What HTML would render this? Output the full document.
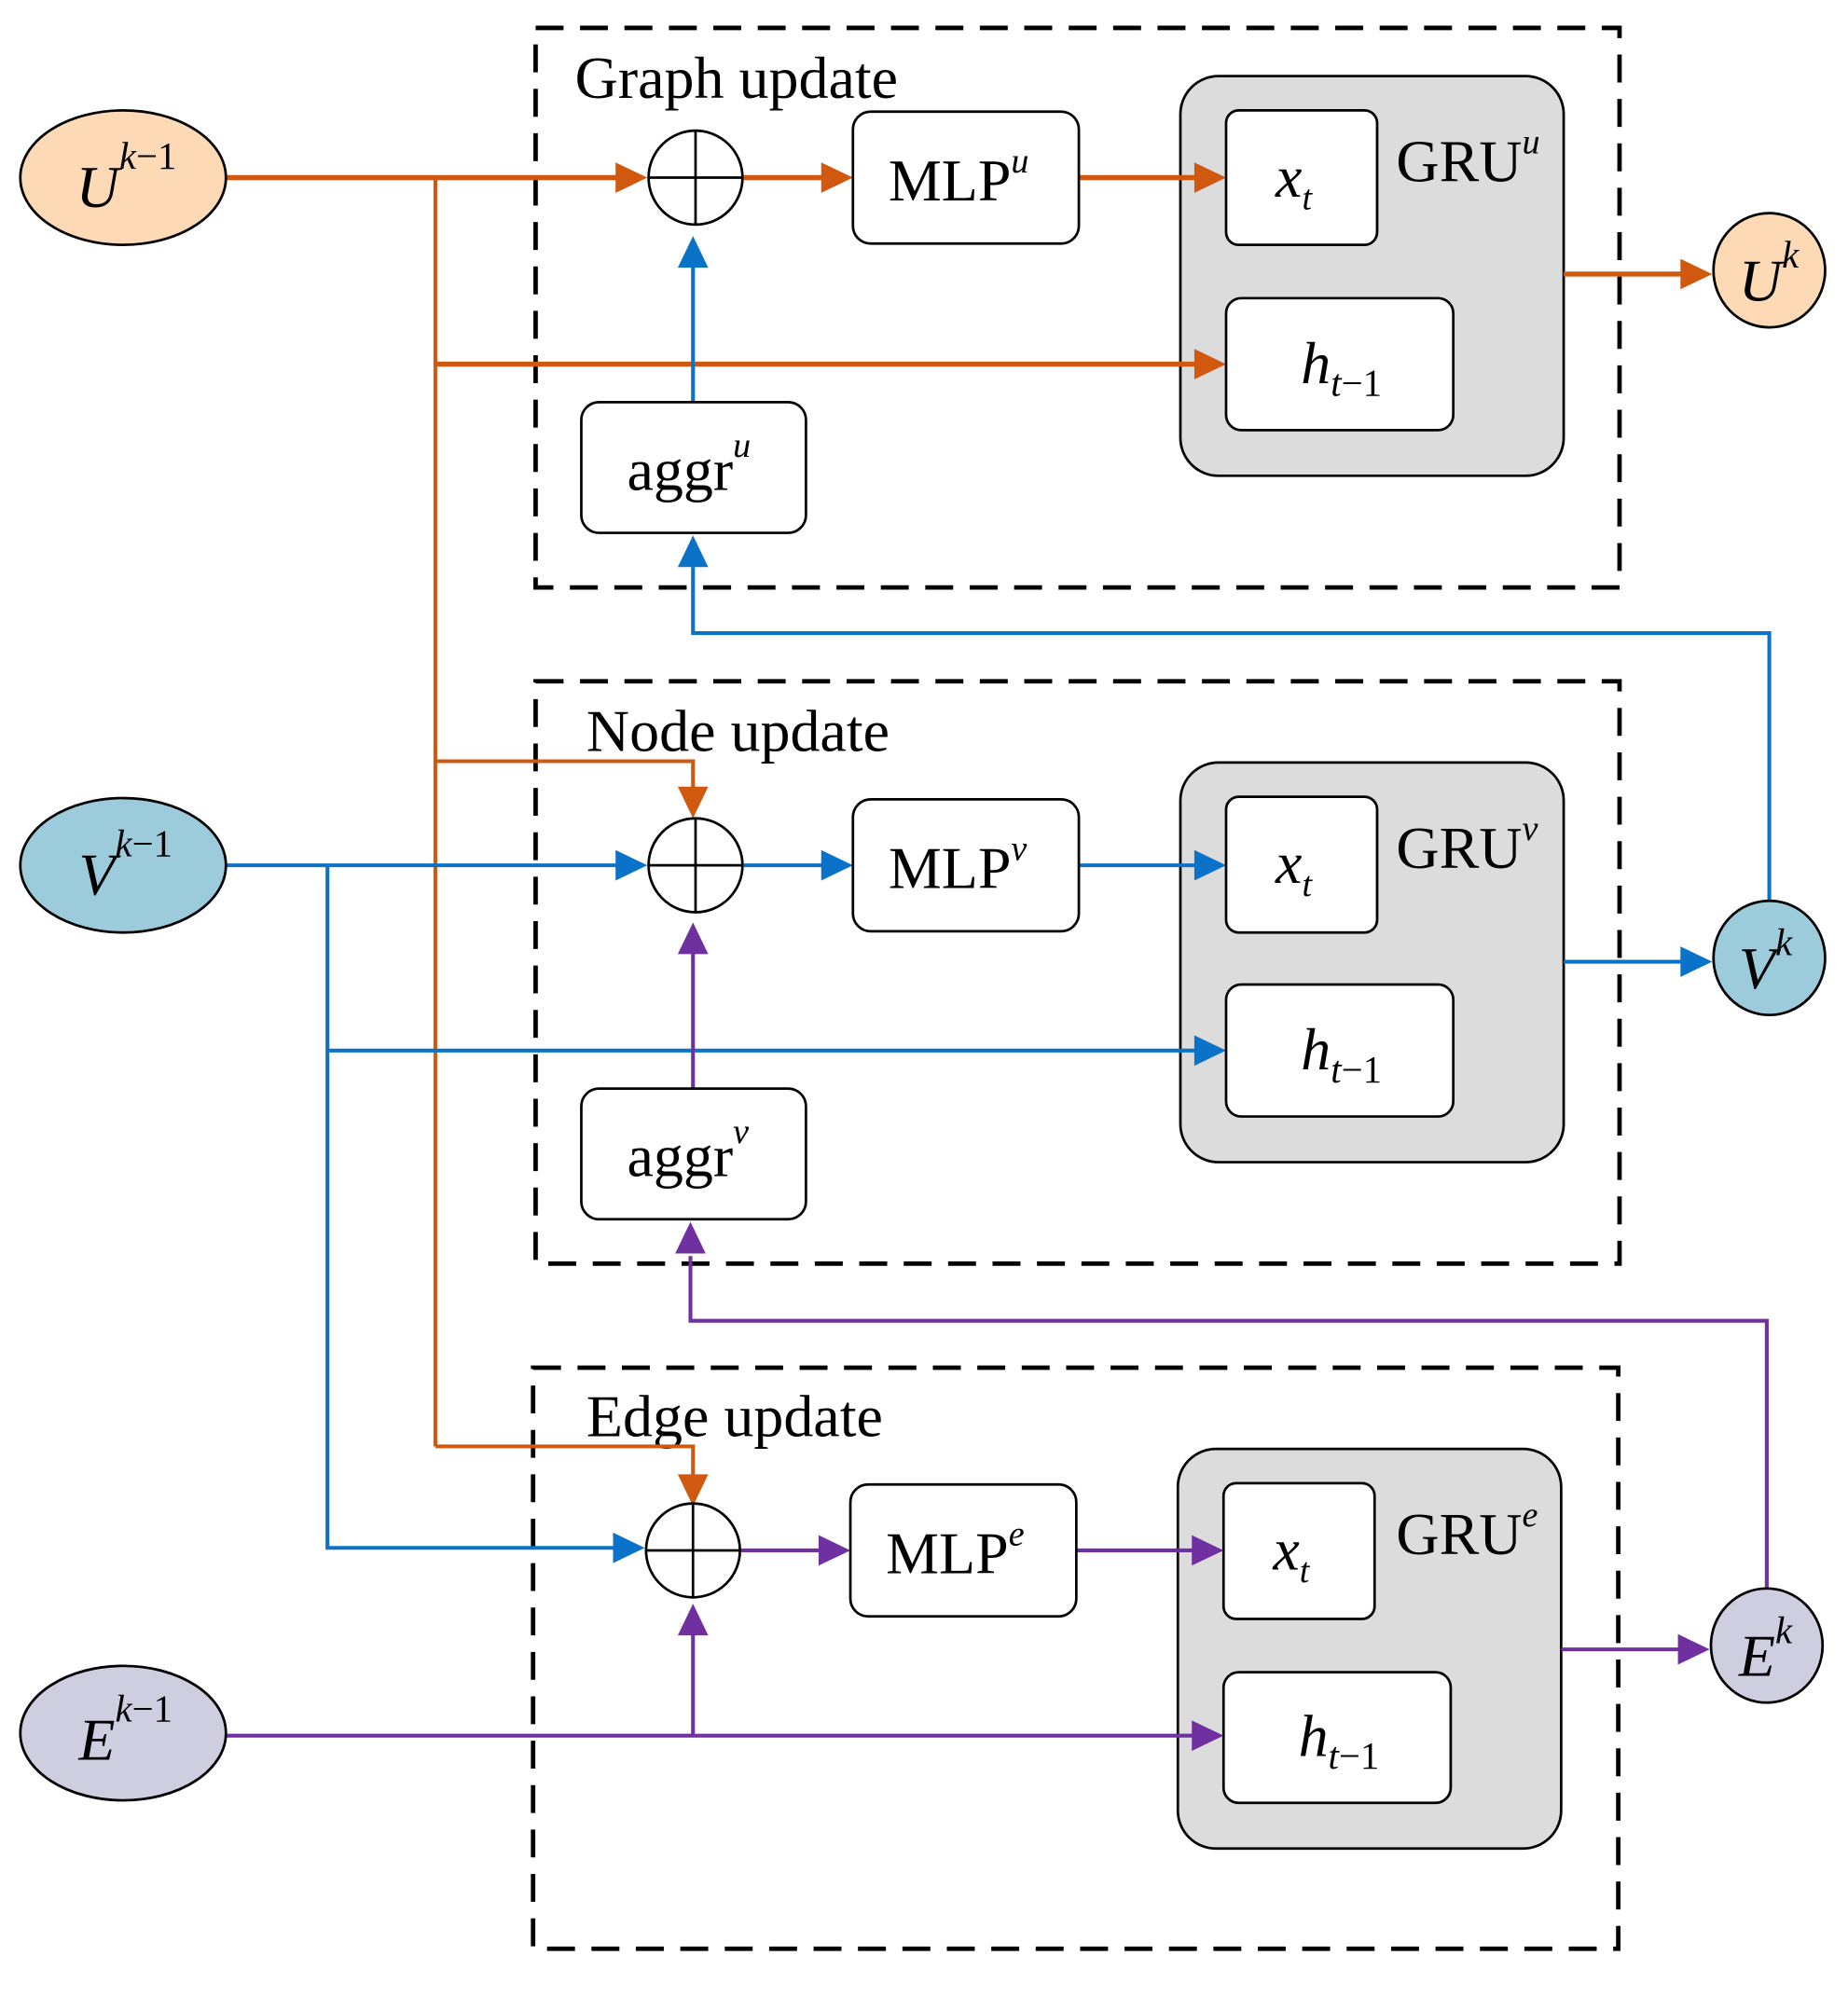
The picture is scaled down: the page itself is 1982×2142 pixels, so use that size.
<!DOCTYPE html>
<html><head><meta charset="utf-8"><style>html,body{margin:0;padding:0;background:#fff}svg{display:block}</style></head>
<body>
<svg width="1982" height="2142" viewBox="0 0 1456 1574" preserveAspectRatio="none" xmlns="http://www.w3.org/2000/svg" font-family="Liberation Serif, serif">
<style>
.d{fill:none;stroke:#000;stroke-width:3.5;stroke-dasharray:22 13}
.b{fill:#fff;stroke:#000;stroke-width:2}
.g{fill:#dcdcdc;stroke:#000;stroke-width:2}
.o{stroke:#d0580f;stroke-width:4;fill:none}
.ot{stroke:#d0580f;stroke-width:3;fill:none}
.bl{stroke:#0a72c8;stroke-width:3;fill:none}
.p{stroke:#7030a0;stroke-width:3;fill:none}
text{font-size:47px}
.i{font-style:italic}
</style>
<!-- dashed boxes -->
<rect class="d" x="422" y="22" width="854" height="441"/>
<rect class="d" x="422" y="537" width="854" height="459"/>
<rect class="d" x="420" y="1078" width="855" height="458"/>
<text x="453" y="77">Graph update</text>
<text x="462" y="592">Node update</text>
<text x="462" y="1132">Edge update</text>

<!-- GRU panels (drawn first so wires go over) -->
<rect class="g" x="930" y="60" width="302" height="315" rx="30"/>
<rect class="g" x="930" y="601" width="302" height="315" rx="30"/>
<rect class="g" x="928" y="1142" width="302" height="315" rx="30"/>

<!-- wires orange -->
<path class="o" d="M178,140 H495"/>
<path class="ot" d="M343,140 V1140"/>
<path class="o" d="M343,287 H950"/>
<path class="ot" d="M343,600 H546 V630"/>
<path class="ot" d="M343,1140 H546 V1172"/>
<path class="o" d="M586,140 H658"/>
<path class="o" d="M850,140 H952"/>
<path class="o" d="M1232,216 H1335"/>
<!-- blue -->
<path class="bl" d="M546,317 V205"/>
<path class="bl" d="M1394,710 V499 H546 V447"/>
<path class="bl" d="M178,682 H495"/>
<path class="bl" d="M258,682 V1220 H495"/>
<path class="bl" d="M258,828 H952"/>
<path class="bl" d="M586,682 H658"/>
<path class="bl" d="M850,682 H952"/>
<path class="bl" d="M1232,758 H1335"/>
<!-- purple -->
<path class="p" d="M546,858 V746"/>
<path class="p" d="M1392,1252 V1041 H544 V990"/>
<path class="p" d="M178,1368 H950"/>
<path class="p" d="M546,1368 V1288"/>
<path class="p" d="M584,1222 H656"/>
<path class="p" d="M848,1222 H950"/>
<path class="p" d="M1230,1300 H1333"/>

<!-- arrowheads -->
<g fill="#d0580f">
<path d="M510,140 l-25,-12 v24z"/>
<path d="M672,140 l-25,-12 v24z"/>
<path d="M966,140 l-25,-12 v24z"/>
<path d="M966,287 l-25,-12 v24z"/>
<path d="M1349,216 l-25,-12 v24z"/>
<path d="M546,645 l-12,-25 h24z"/>
<path d="M546,1187 l-12,-25 h24z"/>
</g>
<g fill="#0a72c8">
<path d="M546,186 l-12,25 h24z"/>
<path d="M546,422 l-12,25 h24z"/>
<path d="M510,682 l-25,-12 v24z"/>
<path d="M508,1220 l-25,-12 v24z"/>
<path d="M672,682 l-25,-12 v24z"/>
<path d="M966,682 l-25,-12 v24z"/>
<path d="M966,828 l-25,-12 v24z"/>
<path d="M1349,758 l-25,-12 v24z"/>
</g>
<g fill="#7030a0">
<path d="M546,727 l-12,25 h24z"/>
<path d="M544,963 l-12,25 h24z"/>
<path d="M546,1264 l-12,25 h24z"/>
<path d="M670,1222 l-25,-12 v24z"/>
<path d="M964,1222 l-25,-12 v24z"/>
<path d="M964,1368 l-25,-12 v24z"/>
<path d="M1347,1300 l-25,-12 v24z"/>
</g>

<!-- plus circles -->
<g class="b">
<circle cx="548" cy="140" r="37"/><path d="M511,140 H585 M548,103 V177"/>
<circle cx="548" cy="682" r="37"/><path d="M511,682 H585 M548,645 V719"/>
<circle cx="546" cy="1222" r="37"/><path d="M509,1222 H583 M546,1185 V1259"/>
</g>

<!-- MLP -->
<rect class="b" x="672" y="88" width="178" height="104" rx="14"/>
<rect class="b" x="672" y="630" width="178" height="104" rx="14"/>
<rect class="b" x="670" y="1170" width="178" height="104" rx="14"/>
<text x="700" y="158">MLP<tspan class="i" font-size="28" dy="-22">u</tspan></text>
<text x="700" y="700">MLP<tspan class="i" font-size="28" dy="-22">v</tspan></text>
<text x="698" y="1240">MLP<tspan class="i" font-size="28" dy="-22">e</tspan></text>

<!-- aggr -->
<rect class="b" x="458" y="317" width="177" height="103" rx="14"/>
<rect class="b" x="458" y="858" width="177" height="103" rx="14"/>
<text x="494" y="386">aggr<tspan class="i" font-size="28" dy="-26">u</tspan></text>
<text x="494" y="927">aggr<tspan class="i" font-size="28" dy="-26">v</tspan></text>

<!-- GRU labels and inner boxes -->
<text x="1100" y="143">GRU<tspan class="i" font-size="28" dy="-22">u</tspan></text>
<text x="1100" y="684">GRU<tspan class="i" font-size="28" dy="-22">v</tspan></text>
<text x="1100" y="1225">GRU<tspan class="i" font-size="28" dy="-22">e</tspan></text>
<rect class="b" x="966" y="87" width="119" height="106" rx="10"/>
<rect class="b" x="966" y="628" width="119" height="107" rx="10"/>
<rect class="b" x="964" y="1169" width="119" height="107" rx="10"/>
<rect class="b" x="966" y="235" width="179" height="104" rx="12"/>
<rect class="b" x="966" y="776" width="179" height="104" rx="12"/>
<rect class="b" x="964" y="1318" width="179" height="103" rx="12"/>
<g class="i">
<text x="1005" y="155">x<tspan font-size="28" dy="10">t</tspan></text>
<text x="1005" y="696">x<tspan font-size="28" dy="10">t</tspan></text>
<text x="1003" y="1237">x<tspan font-size="28" dy="10">t</tspan></text>
<text x="1025" y="302">h<tspan font-size="30" dy="10">t</tspan><tspan font-style="normal" font-size="30">−1</tspan></text>
<text x="1025" y="843">h<tspan font-size="30" dy="10">t</tspan><tspan font-style="normal" font-size="30">−1</tspan></text>
<text x="1023" y="1384">h<tspan font-size="30" dy="10">t</tspan><tspan font-style="normal" font-size="30">−1</tspan></text>
</g>

<!-- input ellipses -->
<ellipse cx="97" cy="140" rx="81" ry="53" fill="#fdd9b5" stroke="#000" stroke-width="2"/>
<ellipse cx="97" cy="682" rx="81" ry="53" fill="#9ccbdc" stroke="#000" stroke-width="2"/>
<ellipse cx="97" cy="1366" rx="81" ry="53" fill="#cfcde0" stroke="#000" stroke-width="2"/>
<text x="60" y="163" class="i">U<tspan font-size="30" dy="-30">k</tspan><tspan font-style="normal" font-size="30">−1</tspan></text>
<text x="62" y="705" class="i">V<tspan font-size="30" dy="-30">k</tspan><tspan font-style="normal" font-size="30">−1</tspan></text>
<text x="62" y="1387" class="i">E<tspan font-size="30" dy="-30">k</tspan><tspan font-style="normal" font-size="30">−1</tspan></text>

<!-- outputs -->
<ellipse cx="1394" cy="213" rx="44" ry="45" fill="#fdd9b5" stroke="#000" stroke-width="2"/>
<ellipse cx="1394" cy="755" rx="44" ry="45" fill="#9ccbdc" stroke="#000" stroke-width="2"/>
<ellipse cx="1392" cy="1297" rx="44" ry="45" fill="#cfcde0" stroke="#000" stroke-width="2"/>
<text x="1370" y="237" class="i">U<tspan font-size="30" dy="-26">k</tspan></text>
<text x="1370" y="779" class="i">V<tspan font-size="30" dy="-26">k</tspan></text>
<text x="1370" y="1321" class="i">E<tspan font-size="30" dy="-26">k</tspan></text>
</svg>
</body></html>
